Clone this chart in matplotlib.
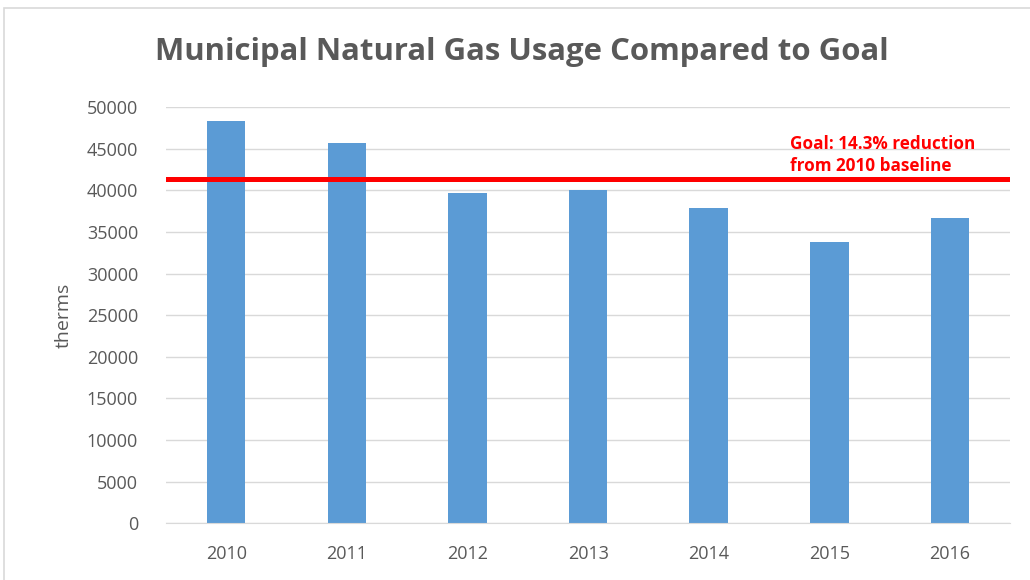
import numpy as np
import matplotlib.pyplot as plt
from matplotlib.patches import Rectangle

years = ['2010', '2011', '2012', '2013', '2014', '2015', '2016']
therms = [48300, 45700, 39700, 40000, 37950, 33800, 36750]
baseline = therms[0]
reduction = 0.143
goal = baseline * (1 - reduction)

grey = '#595959'
bar_blue = '#5B9BD5'

plt.rcParams['font.family'] = ['Open Sans', 'DejaVu Sans']

fig = plt.figure(figsize=(10.3, 5.8), dpi=100)
ax = fig.add_axes([0.161, 0.098, 0.82, 0.717])

x = np.arange(len(years))
ax.bar(x, therms, width=0.32, color=bar_blue, zorder=2)

# goal line and its note
ax.axhline(goal, color='#FF0000', linewidth=3.6, zorder=3)
ax.text(0.739, goal + 500, 'Goal: 14.3% reduction\nfrom 2010 baseline',
        transform=ax.get_yaxis_transform(),
        color='#FF0000', fontsize=12.3, fontweight='bold',
        ha='left', va='bottom', linespacing=1.3)

ax.set_xlim(-0.5, len(years) - 0.5)
ax.set_ylim(0, 50000)
ax.set_yticks(np.arange(0, 50001, 5000))
ax.set_xticks(x)
ax.set_xticklabels(years)
ax.grid(axis='y', color='#D9D9D9', linewidth=1, zorder=0)
for s in ['top', 'right', 'left']:
    ax.spines[s].set_visible(False)
ax.spines['bottom'].set_color('#D9D9D9')
ax.tick_params(axis='both', length=0, labelsize=13, labelcolor=grey)
ax.tick_params(axis='y', pad=20)
ax.tick_params(axis='x', pad=16)
ax.set_ylabel('therms', fontsize=14, color=grey, labelpad=10)

fig.text(0.507, 0.91, 'Municipal Natural Gas Usage Compared to Goal',
         ha='center', va='center', fontsize=22.4, fontweight='bold', color=grey)

# outer chart border
fig.patches.append(Rectangle((4 / 1030, -0.01), 1.02, 1 - 8 / 580 + 0.01,
                             transform=fig.transFigure, fill=False,
                             edgecolor='#D9D9D9', linewidth=1.2))

fig.savefig('out.png', dpi=100)
